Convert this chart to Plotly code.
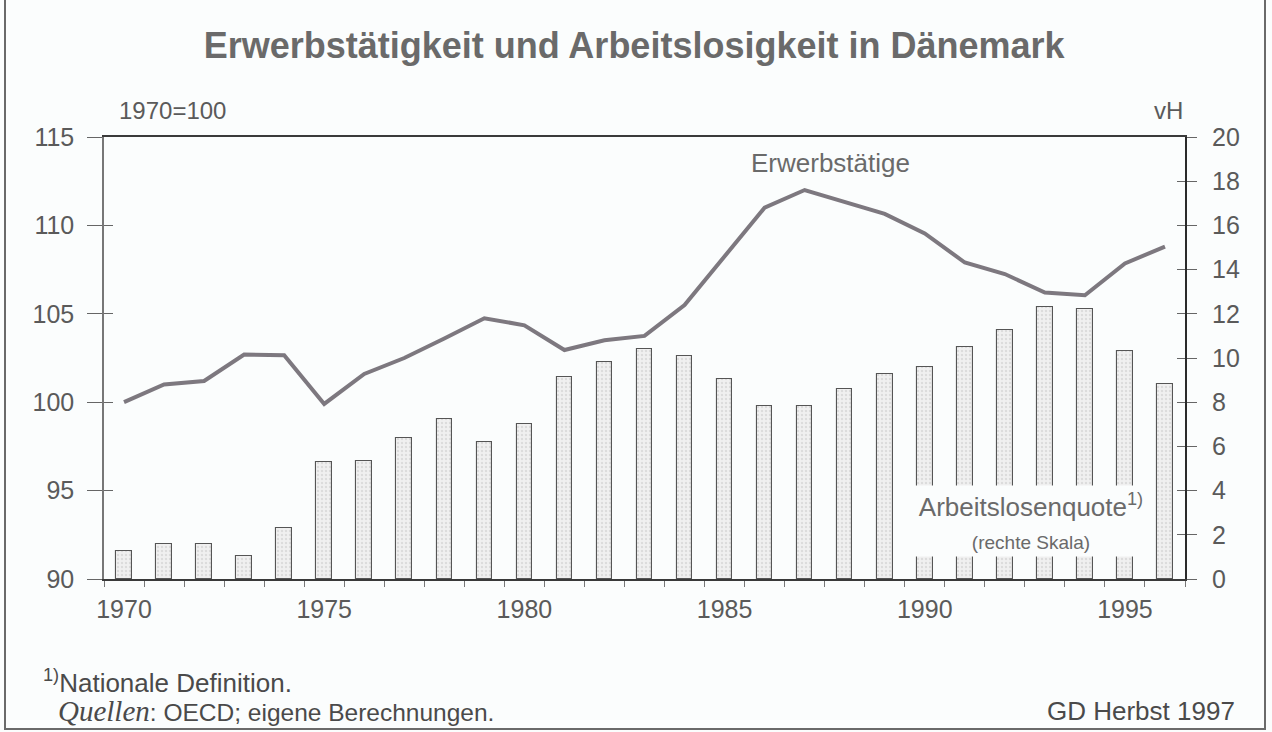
import plotly.graph_objects as go

years = list(range(1970, 1997))
erwerbstaetige = [100.0, 101.0, 101.2, 102.7, 102.65, 99.9, 101.6, 102.5, 103.6, 104.75,
                  104.35, 102.95, 103.5, 103.75, 105.5, 108.25, 111.0, 112.0, 111.3, 110.65,
                  109.55, 107.9, 107.25, 106.2, 106.05, 107.85, 108.8]
arbeitslosenquote = [1.25, 1.6, 1.57, 1.02, 2.33, 5.28, 5.32, 6.38, 7.25, 6.18,
                     7.0, 9.14, 9.8, 10.43, 10.07, 9.05, 7.84, 7.83, 8.6, 9.29,
                     9.6, 10.5, 11.28, 12.3, 12.23, 10.33, 8.84]
label_years = [1970, 1975, 1980, 1985, 1990, 1995]
left_ticks = [90, 95, 100, 105, 110, 115]
right_ticks = [0, 2, 4, 6, 8, 10, 12, 14, 16, 18, 20]

FONT = "Liberation Sans, Arial, sans-serif"
TXT = "#5a5a5a"
BG = "#fbfdfd"

fig = go.Figure()
fig.add_trace(go.Bar(
    x=years, y=arbeitslosenquote, yaxis="y", width=0.39,
    marker=dict(color="#f0f0f0", line=dict(color="#555555", width=1.1),
                pattern=dict(shape=".", fgcolor="#c8c8c8", size=4, solidity=0.3)),
    showlegend=False, hoverinfo="x+y"))
fig.add_trace(go.Scatter(
    x=years, y=erwerbstaetige, yaxis="y2", mode="lines",
    line=dict(color="#7d787f", width=4), showlegend=False))

edges = [y - 0.5 for y in years] + [years[-1] + 0.5]

fig.update_layout(
    width=1272, height=732, autosize=False,
    margin=dict(l=104, r=87, t=137, b=153, pad=0),
    paper_bgcolor=BG, plot_bgcolor=BG,
    font=dict(family=FONT, size=25, color=TXT),
    bargap=0,
    title=dict(text="<b>Erwerbstätigkeit und Arbeitslosigkeit in Dänemark</b>",
               x=0.4985, xref="container", xanchor="center",
               y=1 - 45 / 732, yref="container", yanchor="middle",
               font=dict(family=FONT, size=36, color="#6a6a6a")),
    xaxis=dict(range=[1969.5, 1996.5], tickmode="array", tickvals=label_years,
               ticks="outside", ticklen=0, showgrid=False, zeroline=False,
               showline=True, linecolor="#3a3a3a", linewidth=1.5, mirror=True,
               tickfont=dict(size=25, color=TXT), ticklabelstandoff=7,
               minor=dict(tickmode="array", tickvals=edges, ticks="outside",
                          ticklen=6, tickcolor="#777", tickwidth=1, showgrid=False)),
    yaxis=dict(range=[0, 20], side="right", tickmode="array", tickvals=right_ticks,
               ticks="outside", ticklen=10, tickcolor="#666", showgrid=False,
               zeroline=False, showline=True, linecolor="#2a2a2a", linewidth=2,
               tickfont=dict(size=25, color=TXT), ticklabelstandoff=10),
    yaxis2=dict(range=[90, 115], side="left", overlaying="y", tickmode="array",
                tickvals=left_ticks, ticks="outside", ticklen=15, tickcolor="#666",
                showgrid=False, zeroline=False, showline=True, linecolor="#777",
                linewidth=1.5, tickfont=dict(size=25, color=TXT), ticklabelstandoff=8),
    yaxis3=dict(range=[90, 115], side="left", overlaying="y", tickmode="array",
                tickvals=left_ticks, ticks="inside", ticklen=9, tickcolor="#666",
                showticklabels=False, showgrid=False, zeroline=False, showline=False),
    yaxis4=dict(range=[0, 20], side="right", overlaying="y", tickmode="array",
                tickvals=right_ticks, ticks="inside", ticklen=8, tickcolor="#666",
                showticklabels=False, showgrid=False, zeroline=False, showline=False),
)

# empty traces so the overlay tick axes are drawn
fig.add_trace(go.Scatter(x=[None], y=[None], yaxis="y3", showlegend=False))
fig.add_trace(go.Scatter(x=[None], y=[None], yaxis="y4", showlegend=False))

ann = []
ann.append(dict(text="Erwerbstätige", x=1987.65, y=113.55, xref="x", yref="y2",
                showarrow=False, font=dict(size=26, color="#6a6a6a")))
ann.append(dict(text="Arbeitslosenquote<sup>1)</sup><br><span style='font-size:19px'>(rechte Skala)</span>",
                x=1992.65, y=2.62, xref="x", yref="y", showarrow=False,
                bgcolor=BG, width=236, height=68, align="center",
                font=dict(size=26, color="#6a6a6a")))
ann.append(dict(text="1970=100", x=13 / 1081, y=1.059, xref="paper", yref="paper",
                xanchor="left", yanchor="middle", showarrow=False,
                font=dict(size=24, color=TXT)))
ann.append(dict(text="vH", x=1.0, y=1.059, xref="paper", yref="paper",
                xanchor="right", yanchor="middle", showarrow=False,
                font=dict(size=24, color=TXT)))
ann.append(dict(text="<sup>1)</sup>Nationale Definition.", x=(41 - 104) / 1081,
                y=(579 - 681) / 442, xref="paper", yref="paper", xanchor="left",
                yanchor="middle", showarrow=False, font=dict(size=26, color="#4a4a4a")))
ann.append(dict(text="<span style='font-family:Liberation Serif;font-size:29px'><i>Quellen</i></span>: OECD; eigene Berechnungen.",
                x=(56 - 104) / 1081, y=(579 - 711) / 442, xref="paper", yref="paper",
                xanchor="left", yanchor="middle", showarrow=False,
                font=dict(size=24.5, color="#4a4a4a")))
ann.append(dict(text="GD Herbst 1997", x=(1237 - 104) / 1081, y=(579 - 711) / 442,
                xref="paper", yref="paper", xanchor="right", yanchor="middle",
                showarrow=False, font=dict(size=26, color="#4a4a4a")))
fig.update_layout(annotations=ann)

# outer frame of the chart (left, bottom, right)
fx0, fx1 = (5 - 104) / 1081, (1265 - 104) / 1081
fy0, fy1 = (579 - 729) / 442, (579 + 10) / 442
fig.add_shape(type="path", xref="paper", yref="paper",
              path=f"M {fx0} {fy1} L {fx0} {fy0} L {fx1} {fy0} L {fx1} {fy1}",
              line=dict(color="#6a6a6a", width=2), layer="below")

fig.write_html("out.html", config={"displayModeBar": False},
               post_script="document.body.style.margin='0';document.body.style.padding='0';")
